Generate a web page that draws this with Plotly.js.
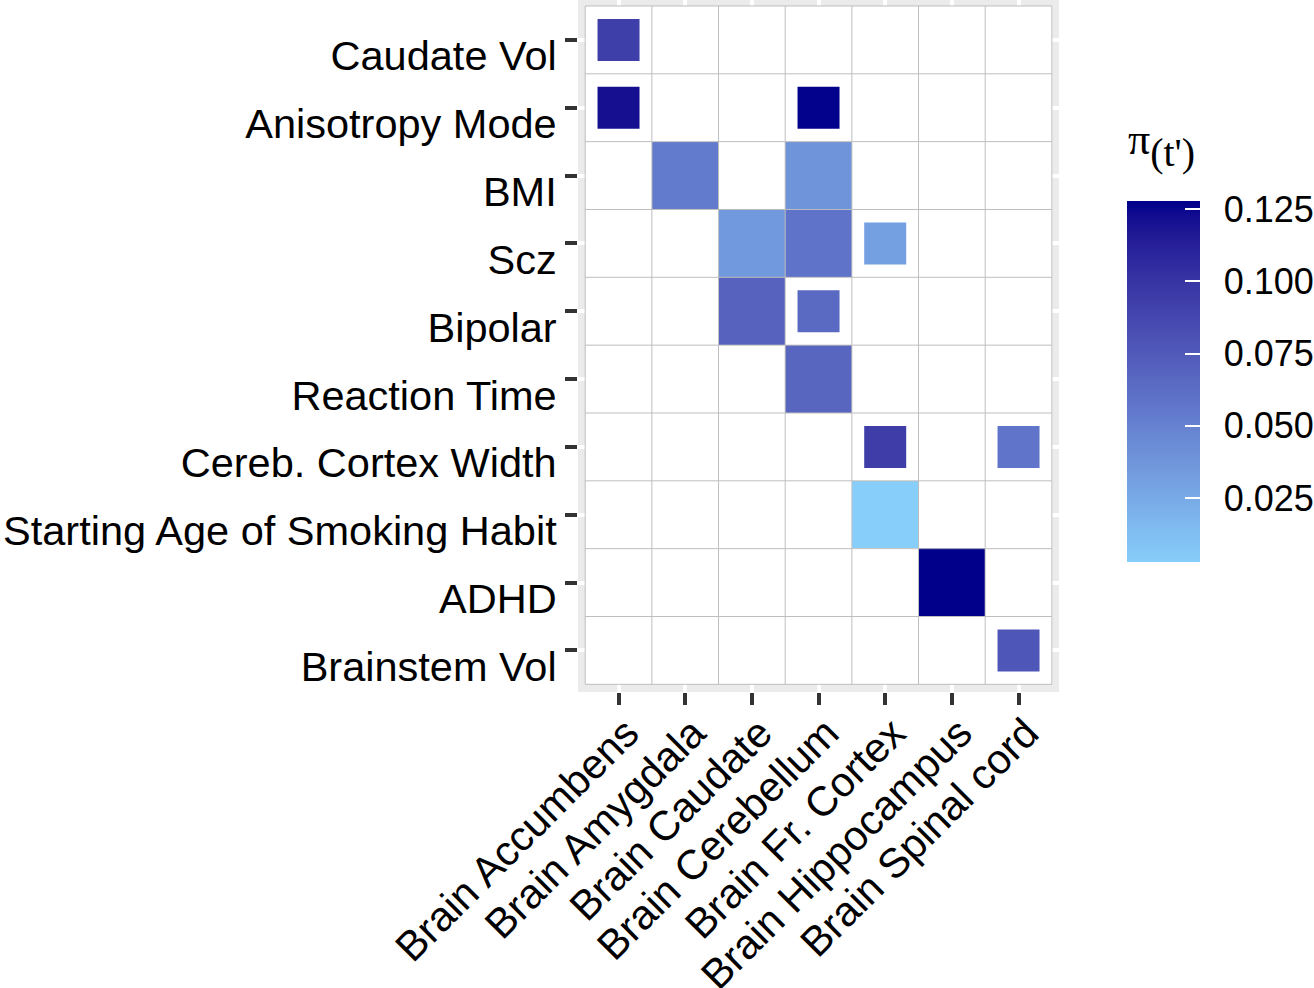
<!DOCTYPE html>
<html>
<head>
<meta charset="utf-8">
<script src="https://cdn.plot.ly/plotly-3.0.1.min.js"></script>
<style>html,body{margin:0;padding:0;background:#fff;}#chart{width:1314px;height:988px;}</style>
</head>
<body>
<div id="chart"></div>
<script>
// ---- data ----
var traits = ["Caudate Vol", "Anisotropy Mode", "BMI", "Scz", "Bipolar", "Reaction Time",
              "Cereb. Cortex Width", "Starting Age of Smoking Habit", "ADHD", "Brainstem Vol"];
var tissues = ["Brain Accumbens", "Brain Amygdala", "Brain Caudate", "Brain Cerebellum",
               "Brain Fr. Cortex", "Brain Hippocampus", "Brain Spinal cord"];

// full tiles
var fullTrait  = ["BMI", "BMI", "Scz", "Scz", "Bipolar", "Reaction Time", "Starting Age of Smoking Habit", "ADHD"];
var fullTissue = ["Brain Amygdala", "Brain Cerebellum", "Brain Caudate", "Brain Cerebellum", "Brain Caudate",
                  "Brain Cerebellum", "Brain Fr. Cortex", "Brain Hippocampus"];
var fullValue  = [0.054, 0.038, 0.035, 0.059, 0.070, 0.0675, 0.0028, 0.1279];

// small (inner) squares
var smallTrait  = ["Caudate Vol", "Anisotropy Mode", "Anisotropy Mode", "Scz", "Bipolar",
                   "Cereb. Cortex Width", "Cereb. Cortex Width", "Brainstem Vol"];
var smallTissue = ["Brain Accumbens", "Brain Accumbens", "Brain Cerebellum", "Brain Fr. Cortex", "Brain Cerebellum",
                   "Brain Fr. Cortex", "Brain Spinal cord", "Brain Spinal cord"];
var smallValue  = [0.093, 0.121, 0.127, 0.031, 0.065, 0.0935, 0.058, 0.078];

var colorTicks = [0.025, 0.050, 0.075, 0.100, 0.125];
var colorTickText = ["0.025", "0.050", "0.075", "0.100", "0.125"];
var colorTitle = "π<sub>(t')</sub>";

// ---- Lab gradient (like ggplot's scale_fill_gradient) ----
function hexToRgb(h){h=h.replace('#','');return [parseInt(h.substr(0,2),16),parseInt(h.substr(2,2),16),parseInt(h.substr(4,2),16)];}
function lin(c){c/=255;return c<=0.04045?c/12.92:Math.pow((c+0.055)/1.055,2.4);}
function unlin(c){var v=c<=0.0031308?12.92*c:1.055*Math.pow(c,1/2.4)-0.055;return Math.max(0,Math.min(255,Math.round(v*255)));}
var WX=0.95047,WY=1,WZ=1.08883;
function f(t){return t>0.008856?Math.cbrt(t):(7.787*t+16/116);}
function finv(t){return t*t*t>0.008856?t*t*t:(t-16/116)/7.787;}
function rgb2lab(rgb){var r=lin(rgb[0]),g=lin(rgb[1]),b=lin(rgb[2]);
  var X=0.4124*r+0.3576*g+0.1805*b,Y=0.2126*r+0.7152*g+0.0722*b,Z=0.0193*r+0.1192*g+0.9505*b;
  var fx=f(X/WX),fy=f(Y/WY),fz=f(Z/WZ);return [116*fy-16,500*(fx-fy),200*(fy-fz)];}
function lab2rgb(lab){var fy=(lab[0]+16)/116,fx=fy+lab[1]/500,fz=fy-lab[2]/200;
  var X=WX*finv(fx),Y=WY*finv(fy),Z=WZ*finv(fz);
  var r=3.2406*X-1.5372*Y-0.4986*Z,g=-0.9689*X+1.8758*Y+0.0415*Z,b=0.0557*X-0.2040*Y+1.0570*Z;
  return 'rgb('+unlin(r)+','+unlin(g)+','+unlin(b)+')';}
var lowLab=rgb2lab(hexToRgb('#87CEFA')), highLab=rgb2lab(hexToRgb('#00008B'));
var colorscale=[];
for(var i=0;i<=24;i++){var t=i/24;
  colorscale.push([t,lab2rgb([lowLab[0]+t*(highLab[0]-lowLab[0]),lowLab[1]+t*(highLab[1]-lowLab[1]),lowLab[2]+t*(highLab[2]-lowLab[2])])]);}

// ---- build traces ----
var nR=traits.length, nC=tissues.length;
var colIdx=tissues.map(function(_,i){return i;});
var rowIdx=traits.map(function(_,i){return i;});

var baseZ=[], fullZ=[];
for(var r=0;r<nR;r++){baseZ.push([]);fullZ.push([]);for(var c=0;c<nC;c++){baseZ[r].push(1);fullZ[r].push(null);}}
for(var k=0;k<fullValue.length;k++){
  fullZ[traits.indexOf(fullTrait[k])][tissues.indexOf(fullTissue[k])]=fullValue[k];
}

var gx=[],gy=[];
for(var c=0;c<=nC;c++){gx.push(c-0.5,c-0.5,null);gy.push(-0.5,nR-0.5,null);}
for(var r=0;r<=nR;r++){gx.push(-0.5,nC-0.5,null);gy.push(r-0.5,r-0.5,null);}

var data=[
  {type:'heatmap',x:colIdx,y:rowIdx,z:baseZ,colorscale:[[0,'#ffffff'],[1,'#ffffff']],showscale:false,hoverinfo:'skip'},
  {type:'heatmap',x:colIdx,y:rowIdx,z:fullZ,coloraxis:'coloraxis',hoverongaps:false},
  {type:'scatter',mode:'lines',x:gx,y:gy,line:{color:'#BEBEBE',width:1},hoverinfo:'skip',showlegend:false},
  {type:'scatter',mode:'markers',
   x:smallTissue.map(function(s){return tissues.indexOf(s);}),
   y:smallTrait.map(function(s){return traits.indexOf(s);}),
   marker:{symbol:'square',size:42,color:smallValue,coloraxis:'coloraxis',line:{width:0}},
   showlegend:false}
];

var pad = "\u00A0\u2006";
var layout={
  width:1314,height:988,
  margin:{l:578,r:255,t:0,b:296,pad:0,autoexpand:false},
  paper_bgcolor:'#ffffff',plot_bgcolor:'#EBEBEB',
  font:{family:'Liberation Sans, Arial, sans-serif',color:'#000000'},
  showlegend:false,
  xaxis:{range:[-0.608,6.607],tickvals:colIdx,ticktext:tissues,tickangle:-45,automargin:false,
         tickfont:{size:41.5,color:'#000000'},ticks:'outside',ticklen:12,tickwidth:4,tickcolor:'#333333',
         ticklabelstandoff:-13,ticklabelshift:8,
         showgrid:true,gridcolor:'#FFFFFF',gridwidth:4,zeroline:false,showline:false,fixedrange:true},
  yaxis:{range:[9.613,-0.588],tickvals:rowIdx,ticktext:traits,automargin:false,
         tickfont:{size:41.5,color:'#000000'},ticks:'outside',ticklen:12,tickwidth:4,tickcolor:'#333333',
         ticklabelstandoff:0,ticklabelshift:-16,
         showgrid:true,gridcolor:'#FFFFFF',gridwidth:4,zeroline:false,showline:false,fixedrange:true},
  coloraxis:{colorscale:colorscale,
    colorbar:{thickness:73,thicknessmode:'pixels',len:361,lenmode:'pixels',
      x:1.1414,xanchor:'left',xpad:0,y:0.1879,yanchor:'bottom',ypad:0,
      outlinewidth:0,
      tickvals:colorTicks,ticktext:colorTickText.map(function(s){return pad+s;}),ticks:'inside',ticklen:15,tickwidth:2,tickcolor:'#FFFFFF',
      tickfont:{size:36,color:'#000000',family:'Liberation Sans, Arial, sans-serif'}
    }},
  annotations:[{
    text:colorTitle.replace('π','<span style="font-size:44px">π</span>'),
    xref:'paper',yref:'paper',x:1.1414,y:0.7457,xanchor:'left',yanchor:'bottom',
    showarrow:false,borderpad:0,
    font:{size:57,family:'Liberation Serif, Times New Roman, serif',color:'#000000'}
  }]
};

Plotly.newPlot('chart',data,layout,{displayModeBar:false,staticPlot:true});
</script>
</body>
</html>
